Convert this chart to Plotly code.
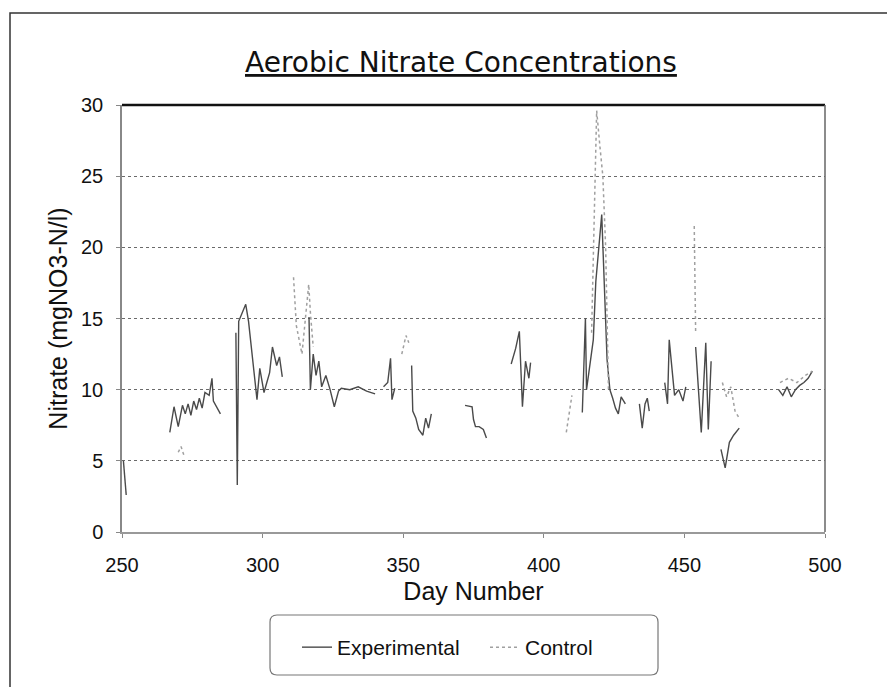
import plotly.graph_objects as go

# Experimental series (solid line); None separates gaps in the record
exp_day = [250.5, 251.0, 251.5, None,
           267.0, 268.5, 270.0, 271.5, 272.5, 273.5, 274.5, 275.5, 276.5, 277.5, 278.5, 279.5, 281.0, 282.0, 282.5, 284.0, 285.0, None,
           290.5, 291.0, 291.5, 293.0, 294.0, 295.0, 296.5, 298.0, 299.0, 300.5, 301.5, 302.5, 303.5, 305.0, 306.0, 307.0, None,
           316.5, 317.0, 318.0, 319.0, 320.0, 321.0, 322.5, 324.0, 325.5, 327.0, 328.0, 331.0, 334.0, 337.0, 340.0, None,
           343.0, 344.5, 345.5, 346.0, 347.0, None,
           353.0, 353.4, 354.5, 355.5, 357.0, 358.0, 359.0, 360.0, None,
           372.0, 374.5, 375.0, 375.7, 377.0, 378.5, 379.6, None,
           388.4, 390.0, 391.3, 392.4, 393.5, 394.7, 395.3, None,
           413.7, 414.0, 414.8, 415.2, 417.6, 418.5, 420.6, 422.5, 423.5, 424.5, 425.5, 426.5, 427.5, 429.0, None,
           434.0, 435.0, 436.0, 436.8, 437.5, None,
           443.0, 444.0, 444.6, 445.8, 446.5, 448.0, 449.5, 450.5, None,
           454.0, 456.0, 457.6, 458.5, 459.5, None,
           463.0, 464.5, 466.0, 467.5, 469.5, None,
           483.5, 485.0, 486.5, 488.0, 489.5, 491.0, 492.5, 494.0, 495.5]
exp_val = [5.0, 3.5, 2.6, None,
           7.0, 8.8, 7.4, 8.9, 8.3, 9.0, 8.2, 9.2, 8.6, 9.4, 8.7, 9.8, 9.6, 10.8, 9.2, 8.6, 8.3, None,
           14.0, 3.3, 14.8, 15.6, 16.0, 14.8, 11.8, 9.3, 11.5, 9.8, 10.5, 11.2, 13.0, 11.7, 12.3, 10.9, None,
           15.1, 10.0, 12.5, 11.0, 12.0, 10.2, 11.0, 10.0, 8.8, 9.9, 10.1, 10.0, 10.2, 9.9, 9.7, None,
           10.2, 10.5, 12.2, 9.3, 10.1, None,
           11.7, 8.5, 8.0, 7.2, 6.8, 8.0, 7.3, 8.3, None,
           8.9, 8.8, 7.9, 7.4, 7.4, 7.2, 6.6, None,
           11.8, 12.9, 14.1, 8.8, 12.0, 10.8, 11.9, None,
           8.4, 10.0, 15.0, 10.0, 13.5, 17.6, 22.3, 12.1, 10.0, 9.4, 8.7, 8.3, 9.5, 9.0, None,
           9.0, 7.3, 9.0, 9.4, 8.5, None,
           10.5, 9.0, 13.5, 11.0, 9.6, 10.0, 9.2, 10.2, None,
           13.0, 7.0, 13.3, 7.2, 12.0, None,
           5.8, 4.5, 6.3, 6.8, 7.3, None,
           10.0, 9.6, 10.2, 9.5, 10.0, 10.3, 10.5, 10.8, 11.3]

# Control series (dotted line)
ctrl_day = [270.0, 271.0, 272.0, None,
            311.0, 311.5, 312.0, 314.0, 316.4, 317.0, 318.0, None,
            349.5, 351.0, 352.0, None,
            408.0, 409.0, 410.0, None,
            417.0, 418.0, 418.8, 420.0, 421.0, 422.0, 423.0, None,
            453.5, 454.0, None,
            463.5, 465.0, 466.5, 468.0, 469.5, None,
            484.0, 487.0, 490.0, 493.0, 495.5]
ctrl_val = [5.6, 6.0, 5.4, None,
            17.9, 15.6, 14.5, 12.5, 17.4, 15.4, 13.0, None,
            12.5, 13.8, 13.3, None,
            7.0, 8.5, 9.6, None,
            14.0, 23.7, 29.6, 27.0, 25.0, 20.0, 10.0, None,
            21.5, 14.0, None,
            10.5, 9.5, 10.2, 8.5, 8.0, None,
            10.5, 10.8, 10.5, 11.0, 11.3]

x_ticks = [250, 300, 350, 400, 450, 500]
y_ticks = [0, 5, 10, 15, 20, 25, 30]

FONT = "Liberation Sans, Arial, sans-serif"
WIDE = "DejaVu Sans, sans-serif"

# plot area in page pixels (the page body adds an 8px offset, compensated in margins)
PL, PR, PT, PB = 122, 825, 105, 532
PW, PH = PR - PL, PB - PT
OFF = 8


def px(x):
    return (x - PL) / PW


def py(y):
    return (PB - y) / PH


# rounded legend box path (paper coords)
lx0, lx1, ly0, ly1, r = 270, 658, 615, 675, 7
legend_path = (
    f"M {px(lx0 + r)},{py(ly0)} L {px(lx1 - r)},{py(ly0)} "
    f"Q {px(lx1)},{py(ly0)} {px(lx1)},{py(ly0 + r)} "
    f"L {px(lx1)},{py(ly1 - r)} Q {px(lx1)},{py(ly1)} {px(lx1 - r)},{py(ly1)} "
    f"L {px(lx0 + r)},{py(ly1)} Q {px(lx0)},{py(ly1)} {px(lx0)},{py(ly1 - r)} "
    f"L {px(lx0)},{py(ly0 + r)} Q {px(lx0)},{py(ly0)} {px(lx0 + r)},{py(ly0)} Z"
)

fig = go.Figure()
fig.add_trace(go.Scatter(x=exp_day, y=exp_val, mode="lines", name="Experimental",
                         line=dict(color="#4a4a4a", width=1.4), connectgaps=False))
fig.add_trace(go.Scatter(x=ctrl_day, y=ctrl_val, mode="lines", name="Control",
                         line=dict(color="#a0a0a0", width=1.5, dash="dot"), connectgaps=False))

fig.update_layout(
    width=895, height=687,
    margin=dict(l=PL - OFF, r=895 - PR + OFF, t=PT - OFF, b=687 - PB + OFF),
    paper_bgcolor="white", plot_bgcolor="white",
    font=dict(family=FONT, color="#111111"),
    showlegend=True,
    legend=dict(orientation="h", x=px(297), xanchor="left", y=py(627), yanchor="top",
                borderwidth=0, bgcolor="rgba(0,0,0,0)",
                font=dict(size=21, family=FONT, color="#111111"), entrywidth=143),
    annotations=[dict(text="Aerobic Nitrate Concentrations", xref="paper", yref="paper",
                      x=px(461), y=py(63), xanchor="center", yanchor="middle",
                      showarrow=False,
                      font=dict(size=28, family=WIDE, color="#111111", lineposition="under"))],
    shapes=[
        dict(type="rect", xref="paper", yref="paper",
             x0=px(10), x1=px(905), y0=py(700), y1=py(13),
             line=dict(color="#333333", width=1.5), layer="below"),
        dict(type="path", xref="paper", yref="paper", path=legend_path,
             line=dict(color="#777777", width=1.2), layer="below"),
        dict(type="line", xref="paper", yref="paper", x0=0, x1=1, y0=1, y1=1,
             line=dict(color="#111111", width=2.5)),
        dict(type="line", xref="paper", yref="paper", x0=1, x1=1, y0=0, y1=1,
             line=dict(color="#666666", width=1.5)),
    ],
)

fig.update_xaxes(range=[250, 500], tickvals=x_ticks, ticks="outside", ticklen=4,
                 tickcolor="#888888", showline=True, linecolor="#999999", linewidth=1.5,
                 showgrid=False, zeroline=False, ticklabelstandoff=10,
                 tickfont=dict(size=20, family=FONT, color="#111111"),
                 title=dict(text="Day Number", font=dict(size=25, family=FONT, color="#111111"),
                            standoff=8))
fig.update_yaxes(range=[0, 30], tickvals=y_ticks, ticks="outside", ticklen=4,
                 tickcolor="#888888", showline=True, linecolor="#888888", linewidth=1.5,
                 showgrid=True, gridcolor="#6a6a6a", griddash="dot", gridwidth=1.2,
                 zeroline=False, ticklabelstandoff=9,
                 tickfont=dict(size=20, family=FONT, color="#111111"),
                 title=dict(text="Nitrate (mgNO3-N/l)", font=dict(size=25, family=FONT, color="#111111"),
                            standoff=6))

fig.write_html("out.html")
